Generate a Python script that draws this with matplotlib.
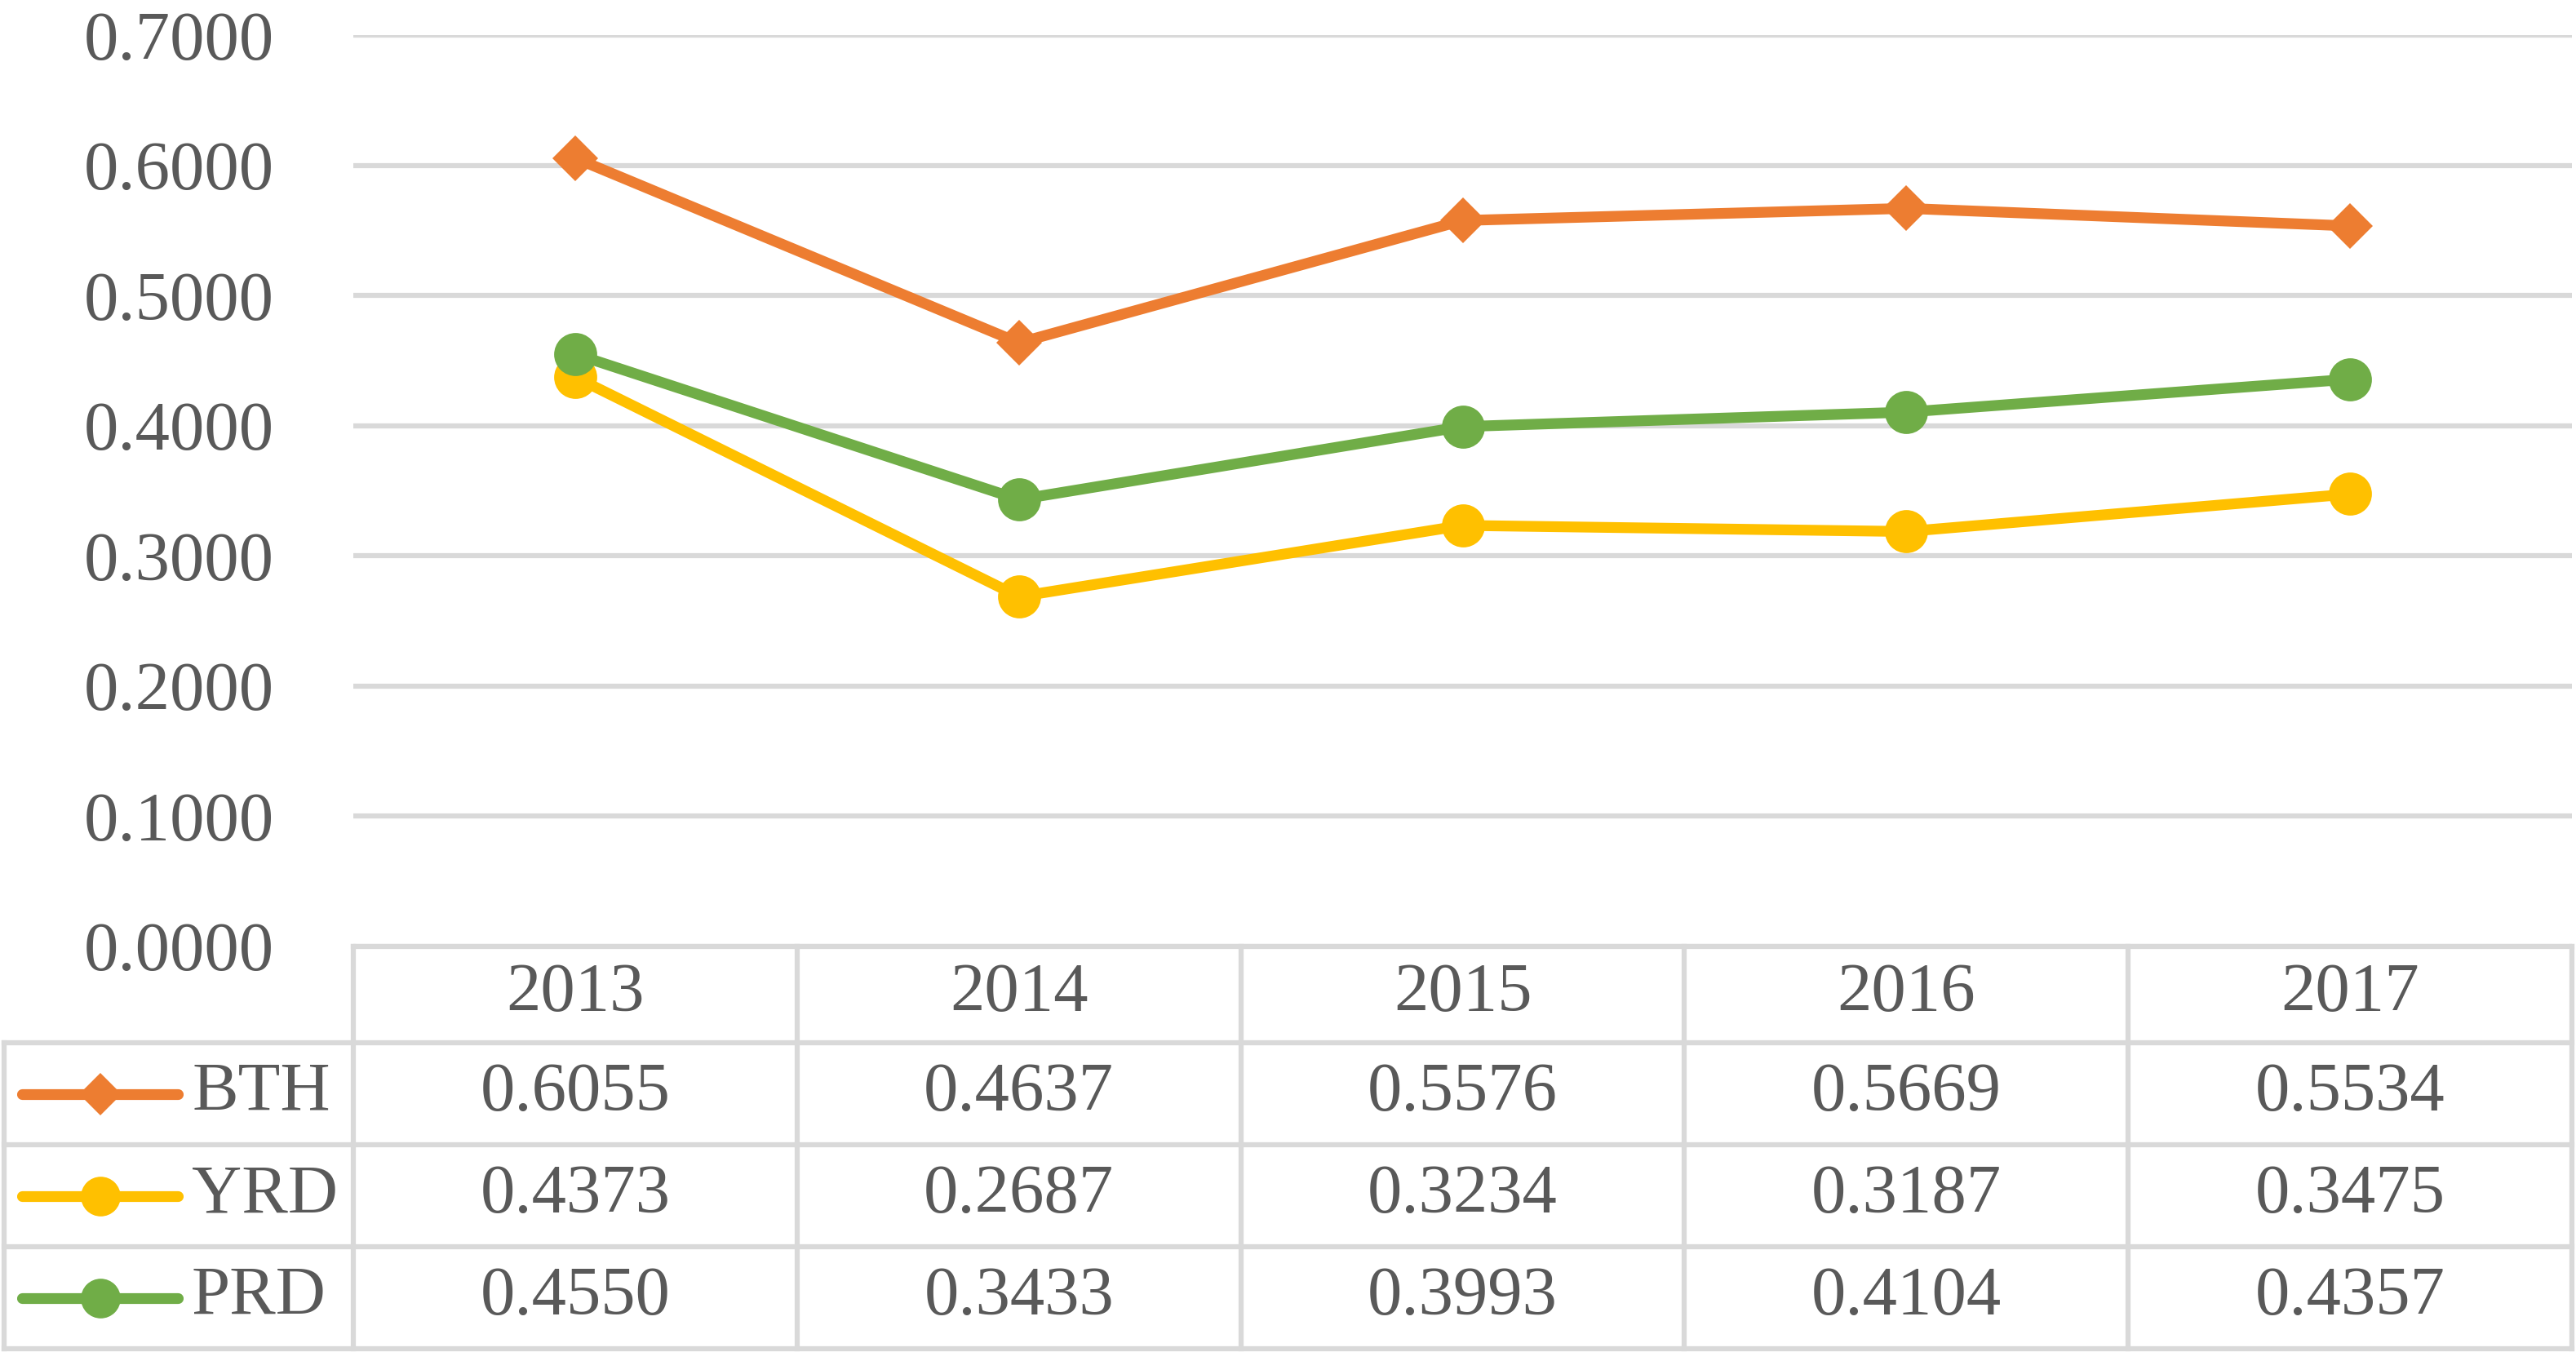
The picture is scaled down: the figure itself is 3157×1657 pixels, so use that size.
import matplotlib
matplotlib.use('Agg')
import matplotlib.pyplot as plt
import numpy as np
from matplotlib.lines import Line2D
from matplotlib import transforms

# ---- data ----
years = ['2013', '2014', '2015', '2016', '2017']
series_names = ['BTH', 'YRD', 'PRD']
bth = [0.6055, 0.4637, 0.5576, 0.5669, 0.5534]
yrd = [0.4373, 0.2687, 0.3234, 0.3187, 0.3475]
prd = [0.4550, 0.3433, 0.3993, 0.4104, 0.4357]
y_ticks = [0.0, 0.1, 0.2, 0.3, 0.4, 0.5, 0.6, 0.7]

series_values = [bth, yrd, prd]
colors = ['#ED7D31', '#FFC000', '#70AD47']
markers = ['D', 'o', 'o']
msizes = [29, 38, 38]

W, H = 3157, 1657
fig = plt.figure(figsize=(W / 100, H / 100), dpi=100)
fig.patch.set_facecolor('white')

def fx(px):
    return px / W

def fy(px):
    return 1 - px / H

font = dict(family=['Liberation Serif', 'DejaVu Serif'], color='#595959', fontsize=61)
grid_c = '#D9D9D9'
grid_lw = 4.5

ax = fig.add_axes([fx(433), fy(1160), fx(3152) - fx(433), fy(43) - fy(1160)])
x = np.arange(len(years))
for vals, c, m, ms in zip(series_values, colors, markers, msizes):
    ax.plot(x, vals, color=c, lw=9.5, marker=m, markersize=ms,
            markeredgewidth=0, solid_capstyle='round', zorder=3, clip_on=False)

ax.set_xlim(-0.5, len(years) - 0.5)
ax.set_ylim(0, 0.7)
ax.set_yticks(y_ticks)
ax.set_yticklabels([f'{v:.4f}' for v in y_ticks])
for lab in ax.get_yticklabels():
    lab.set_fontfamily(font['family'])
    lab.set_color(font['color'])
    lab.set_fontsize(font['fontsize'])
ax.tick_params(axis='y', length=0, pad=70)
ax.set_xticks([])
for s in ax.spines.values():
    s.set_visible(False)
ax.yaxis.grid(True, color=grid_c, lw=grid_lw, zorder=0)
ax.set_axisbelow(True)

# ---- data table ----
blend = transforms.blended_transform_factory(ax.transData, fig.transFigure)
row_edges = [1160, 1278, 1403, 1528, 1653]

def hline(x0, x1, ypx):
    fig.add_artist(Line2D([fx(x0), fx(x1)], [fy(ypx), fy(ypx)], color=grid_c,
                          lw=grid_lw, transform=fig.transFigure, solid_capstyle='projecting'))

def vline(xfig, y0, y1):
    fig.add_artist(Line2D([xfig, xfig], [fy(y0), fy(y1)], color=grid_c,
                          lw=grid_lw, transform=fig.transFigure, solid_capstyle='projecting'))

hline(433, 3152, row_edges[0])
for r in row_edges[1:]:
    hline(5, 3152, r)
vline(fx(5), row_edges[1], row_edges[-1])
# column boundaries through axes data coordinates
for b in np.arange(-0.5, len(years), 1.0):
    fig.add_artist(Line2D([b, b], [fy(row_edges[0]), fy(row_edges[-1])], color=grid_c,
                          lw=grid_lw, transform=blend, solid_capstyle='projecting'))

# header
hy = fy((row_edges[0] + row_edges[1]) / 2)
for i, yr in enumerate(years):
    fig.text(i, hy, yr, transform=blend, ha='center', va='center', **font)

# rows
for r, (name, vals, c, m, ms) in enumerate(zip(series_names, series_values, colors, markers, msizes)):
    cy = fy((row_edges[r + 1] + row_edges[r + 2]) / 2)
    fig.add_artist(Line2D([fx(27), fx(218)], [cy, cy], color=c, lw=9.5,
                          solid_capstyle='round', transform=fig.transFigure))
    fig.add_artist(Line2D([fx(123)], [cy], color=c, marker=m, markersize=ms - 3,
                          markeredgewidth=0, transform=fig.transFigure))
    fig.text(fx(235), cy, name, ha='left', va='center', **font)
    for i, v in enumerate(vals):
        fig.text(i, cy, f'{v:.4f}', transform=blend, ha='center', va='center', **font)

fig.savefig('out.png', dpi=100, facecolor='white')
